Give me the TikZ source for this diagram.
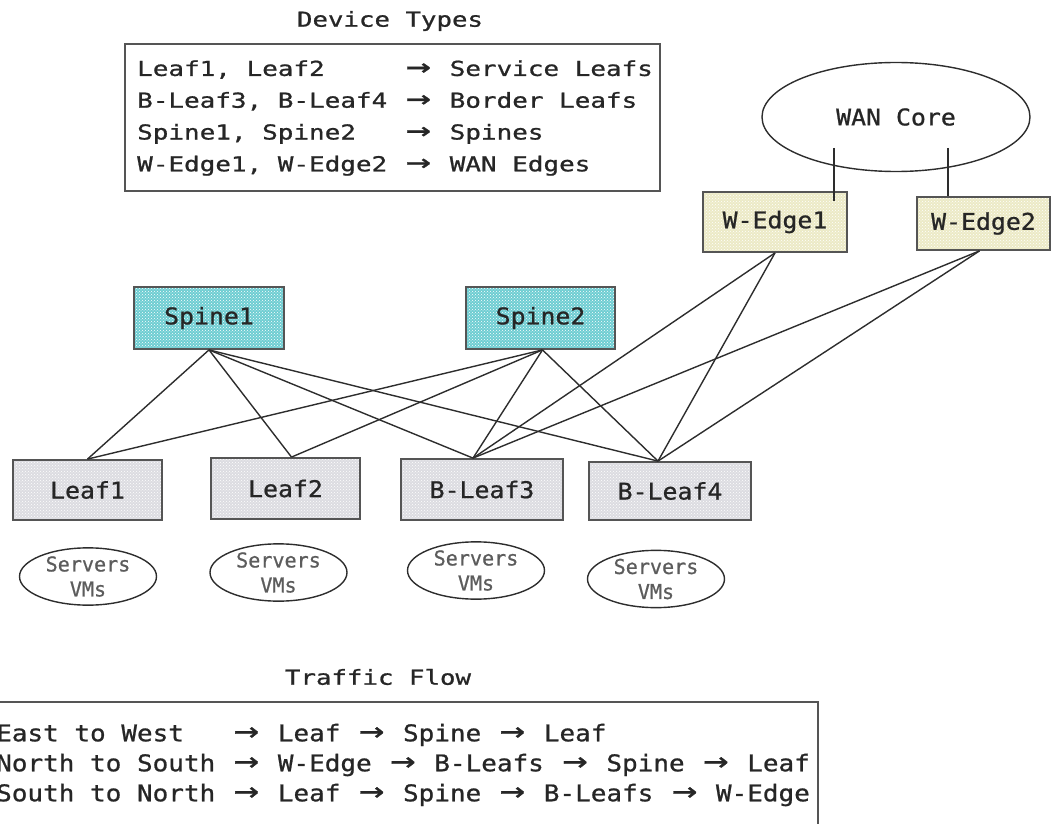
\documentclass[tikz,border=0pt]{standalone}
\usepackage{fontspec}
\newfontfamily\monoN[FakeStretch=1.08,FakeBold=0.9]{DejaVu Sans Mono}
\newfontfamily\monoW[FakeStretch=1.25,FakeBold=0.9]{DejaVu Sans Mono}
\newfontfamily\monoT[FakeStretch=1.26,FakeBold=0.9]{DejaVu Sans Mono}
\newfontfamily\monoF[FakeStretch=1.13,FakeBold=0.9]{DejaVu Sans Mono}
\newfontfamily\monoS[FakeStretch=0.98,FakeBold=0.7]{DejaVu Sans Mono}
\usetikzlibrary{patterns,shapes.geometric,calc}
\definecolor{spinefill}{RGB}{110,205,210}
\definecolor{wedgefill}{RGB}{236,234,198}
\definecolor{leaffill}{RGB}{220,220,225}
\definecolor{wirecol}{RGB}{45,45,45}
\definecolor{boxline}{RGB}{85,85,85}
\definecolor{txtcol}{RGB}{38,38,38}
% wide arrow occupying two character cells
\newcommand\arr{\setbox0\hbox{x}\hbox to 2\wd0{\hss\scalebox{1.6}[1.4]{→}\hss}}
\tikzset{
  hwbox/.style={draw=boxline, line width=1.8pt, inner sep=0pt, text=txtcol,
    font=\monoN\fontsize{23}{27}\selectfont,
    pattern=crosshatch dots, pattern color=white},
  spinebox/.style={hwbox, preaction={fill=spinefill}},
  wedgebox/.style={hwbox, preaction={fill=wedgefill}},
  leafbox/.style={hwbox, preaction={fill=leaffill}},
  srv/.style={ellipse, draw=wirecol, line width=1.4pt, inner sep=0pt,
    minimum width=137pt, minimum height=53pt, align=center, text=txtcol!75!white,
    font=\monoS\fontsize{20.5}{25}\selectfont},
  wire/.style={draw=wirecol, line width=1.4pt},
  frame/.style={draw=boxline, line width=1.8pt, inner sep=0pt},
  title/.style={text=txtcol, inner sep=0pt, font=\monoW\fontsize{20.6}{25}\selectfont},
}
\begin{document}
\begin{tikzpicture}[x=1pt,y=-1pt]
\useasboundingbox (0,0) rectangle (1053,824);
\clip (0,0) rectangle (1053,824);

% Device types legend
\node[title] (devtitle) at (390,21) {Device Types};
\node[frame, minimum width=535pt, minimum height=147pt, anchor=north west] (devbox) at (124,43) {};
\node[anchor=west, align=left, inner sep=0pt, text=txtcol,
      font=\monoT\fontsize{20.6}{31.8}\selectfont] (devtext) at (137,118)
  {Leaf1,~Leaf2~~~~~\arr~Service~Leafs\\
   B-Leaf3,~B-Leaf4~\arr~Border~Leafs\\
   Spine1,~Spine2~~~\arr~Spines\\
   W-Edge1,~W-Edge2~\arr~WAN~Edges};

% WAN core
\node[ellipse, draw=wirecol, line width=1.4pt, minimum width=268pt, minimum height=109pt,
      inner sep=0pt, text=txtcol, font=\monoN\fontsize{23}{27}\selectfont] (wan) at (896,117) {WAN Core};

% devices
\node[wedgebox, minimum width=144pt, minimum height=60pt] (wedge1) at (775,222) {W-Edge1};
\node[wedgebox, minimum width=133pt, minimum height=53pt] (wedge2) at (983.5,223.5) {W-Edge2};
\node[spinebox, minimum width=150pt, minimum height=62pt] (spine1) at (209,318) {Spine1};
\node[spinebox, minimum width=149pt, minimum height=62pt] (spine2) at (540.5,318) {Spine2};
\node[leafbox, minimum width=149pt, minimum height=60pt] (leaf1) at (87.5,490) {Leaf1};
\node[leafbox, minimum width=149pt, minimum height=61pt] (leaf2) at (285.5,488.5) {Leaf2};
\node[leafbox, minimum width=162pt, minimum height=61pt] (bleaf3) at (482,489.5) {B-Leaf3};
\node[leafbox, minimum width=162pt, minimum height=58pt] (bleaf4) at (670,491) {B-Leaf4};

% servers
\node[srv] (srv1) at (88,576.5) {Servers\\VMs};
\node[srv] (srv2) at (278.5,572.5) {Servers\\VMs};
\node[srv] (srv3) at (476,570.5) {Servers\\VMs};
\node[srv] (srv4) at (656,579) {Servers\\VMs};

% attachment points
\coordinate (s1b) at (spine1.south);
\coordinate (s2b) at ($(spine2.south)+(2,0)$);
\coordinate (w1b) at (wedge1.south);
\coordinate (w2b) at ($(wedge2.south)+(-4,0)$);
\coordinate (l1t) at (leaf1.north);
\coordinate (l2t) at ($(leaf2.north)+(6,0)$);
\coordinate (l3t) at ($(bleaf3.north)+(-9,0)$);
\coordinate (l4t) at ($(bleaf4.north)+(-12,0)$);
\coordinate (wc1) at (834,148);
\coordinate (wc2) at (948,148);

% connectors
\foreach \s in {s1b,s2b}{
  \foreach \l in {l1t,l2t,l3t,l4t}{
    \draw[wire] (\s) -- (\l);
  }
}
\foreach \w in {w1b,w2b}{
  \foreach \l in {l3t,l4t}{
    \draw[wire] (\w) -- (\l);
  }
}
\draw[wire] (wc1) -- ($(wc1 |- wedge1.north)+(0,10)$);
\draw[wire] (wc2) -- (wc2 |- wedge2.north);

% traffic flow legend
\node[title] (flowtitle) at (378,677) {Traffic Flow};
\node[frame, minimum width=827pt, minimum height=160pt, anchor=north west] (flowbox) at (-10,701) {};
\node[anchor=west, align=left, inner sep=0pt, text=txtcol,
      font=\monoF\fontsize{23}{30}\selectfont] (flowtext) at (-4,765)
  {East~to~West~~~\arr~Leaf~\arr~Spine~\arr~Leaf\\
   North~to~South~\arr~W-Edge~\arr~B-Leafs~\arr~Spine~\arr~Leaf\\
   South~to~North~\arr~Leaf~\arr~Spine~\arr~B-Leafs~\arr~W-Edge};
\end{tikzpicture}
\end{document}
